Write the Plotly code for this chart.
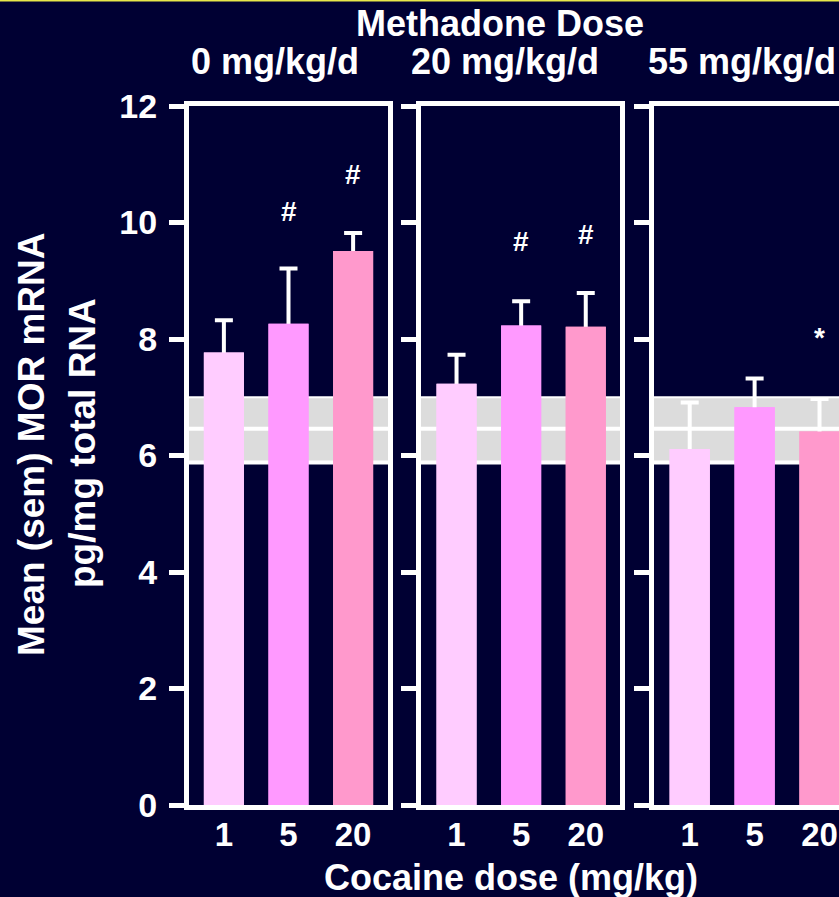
import plotly.graph_objects as go

# ---------------- data ----------------
cocaine_doses = ["1", "5", "20"]
methadone_labels = ["0 mg/kg/d", "20 mg/kg/d", "55 mg/kg/d"]

means_m0 = [7.77, 8.26, 9.51]
sem_m0 = [0.55, 0.95, 0.31]
means_m20 = [7.23, 8.23, 8.21]
sem_m20 = [0.50, 0.42, 0.58]
means_m55 = [6.11, 6.83, 6.41]
sem_m55 = [0.80, 0.49, 0.56]

# significance markers: (cocaine dose, y position, symbol)
marks_m0 = [("5", 10.19, "#"), ("20", 10.82, "#")]
marks_m20 = [("5", 9.67, "#"), ("20", 9.80, "#")]
marks_m55 = [("20", 8.02, "*")]

# control reference band (mean, low, high)
band_mean = 6.46
band_low = 5.88
band_high = 7.00

y_ticks = [0, 2, 4, 6, 8, 10, 12]

bar_colors = ["#FFCCFF", "#FF99FF", "#FF99CC"]

# ---------------- layout geometry ----------------
W, H = 839, 897
L, R = 189, 839
T, B = 106, 805
PW, PH = R - L, B - T


def px_x(px):
    return (px - L) / PW


def px_y(py):
    return (B - py) / PH


BG = "#000033"
FONT = "Liberation Sans, Arial, sans-serif"

panels = [
    (means_m0, sem_m0, marks_m0, [px_x(189), px_x(388)], [-0.54, 2.54]),
    (means_m20, sem_m20, marks_m20, [px_x(421), px_x(620)], [-0.55, 2.53]),
    (means_m55, sem_m55, marks_m55, [px_x(654), 1.0], [-0.55, 2.30]),
]

fig = go.Figure()
annotations = []
shapes = []

for i, (means, sems, marks, dom, xr) in enumerate(panels):
    n = "" if i == 0 else str(i + 1)
    xa, ya = "x" + n, "y" + n
    # bar with symmetric error bar (lower half hidden by overlay bar)
    fig.add_trace(go.Bar(
        x=cocaine_doses, y=means, width=0.62, xaxis=xa, yaxis=ya,
        marker=dict(color=bar_colors, line=dict(width=0)),
        error_y=dict(type="data", array=sems, symmetric=True,
                     color="white", thickness=4, width=9),
        showlegend=False, hoverinfo="skip",
    ))
    fig.add_trace(go.Bar(
        x=cocaine_doses, y=means, width=0.62, xaxis=xa, yaxis=ya,
        marker=dict(color=bar_colors, line=dict(width=0)),
        showlegend=False,
    ))
    last = i == 2
    fig.update_layout(**{
        "xaxis" + n: dict(
            domain=dom, anchor=ya, type="category", range=xr,
            showline=True, linecolor="white", linewidth=5, mirror=True,
            ticks="", showgrid=False, zeroline=False,
            tickfont=dict(family=FONT, size=33, color="white", weight="bold"),
            ticklabelstandoff=-4,
        ),
        "yaxis" + n: dict(
            domain=[0, 1], anchor=xa, range=[0, 12],
            tickvals=y_ticks, ticktext=[str(v) for v in y_ticks],
            showline=True, linecolor="white", linewidth=5,
            mirror=(not last), ticks="outside", ticklen=15, tickwidth=5,
            tickcolor="white", showgrid=False, zeroline=False,
            showticklabels=(i == 0),
            tickfont=dict(family=FONT, size=34, color="white", weight="bold"),
            ticklabelstandoff=5,
        ),
    })
    # reference band
    shapes.append(dict(type="rect", xref=xa + " domain", yref=ya,
                       x0=0, x1=1, y0=band_low, y1=band_high,
                       fillcolor="#DCDCDC", line=dict(width=0), layer="below"))
    for yv, lw in [(band_high, 2), (band_mean, 4), (band_low, 4)]:
        shapes.append(dict(type="line", xref=xa + " domain", yref=ya,
                           x0=0, x1=1, y0=yv, y1=yv,
                           line=dict(color="white", width=lw), layer="below"))
    for (xc, yv, sym) in marks:
        annotations.append(dict(
            x=cocaine_doses.index(xc), y=yv, xref=xa, yref=ya, text=sym,
            showarrow=False,
            font=dict(family=FONT, size=28, color="white", weight="bold"),
            xanchor="center", yanchor="middle",
        ))

# panel titles
for lab, cx in zip(methadone_labels, [275, 505, 742]):
    annotations.append(dict(
        x=px_x(cx), y=px_y(62), xref="paper", yref="paper", text=lab,
        showarrow=False, xanchor="center", yanchor="middle",
        font=dict(family=FONT, size=36, color="white", weight="bold"),
    ))

annotations.append(dict(
    x=px_x(500), y=px_y(24), xref="paper", yref="paper", text="Methadone Dose",
    showarrow=False, xanchor="center", yanchor="middle",
    font=dict(family=FONT, size=36, color="white", weight="bold"),
))
annotations.append(dict(
    x=px_x(511), y=px_y(877), xref="paper", yref="paper",
    text="Cocaine dose (mg/kg)",
    showarrow=False, xanchor="center", yanchor="middle",
    font=dict(family=FONT, size=36, color="white", weight="bold"),
))
annotations.append(dict(
    x=px_x(31), y=px_y(444), xref="paper", yref="paper",
    text="Mean (sem) MOR mRNA", textangle=-90,
    showarrow=False, xanchor="center", yanchor="middle",
    font=dict(family=FONT, size=37, color="white", weight="bold"),
))
annotations.append(dict(
    x=px_x(82), y=px_y(443), xref="paper", yref="paper",
    text="pg/mg total RNA", textangle=-90,
    showarrow=False, xanchor="center", yanchor="middle",
    font=dict(family=FONT, size=37, color="white", weight="bold"),
))

# thin yellow line at top edge of slide
shapes.append(dict(type="line", xref="paper", yref="paper",
                   x0=px_x(0), x1=px_x(839), y0=px_y(0.5), y1=px_y(0.5),
                   line=dict(color="#E8E84A", width=2)))

fig.update_layout(
    width=W, height=H,
    margin=dict(l=L, r=W - R, t=T, b=H - B, pad=0),
    paper_bgcolor=BG, plot_bgcolor=BG,
    barmode="overlay",
    showlegend=False,
    annotations=annotations,
    shapes=shapes,
)

fig.write_html("out.html", config={"displayModeBar": False})
